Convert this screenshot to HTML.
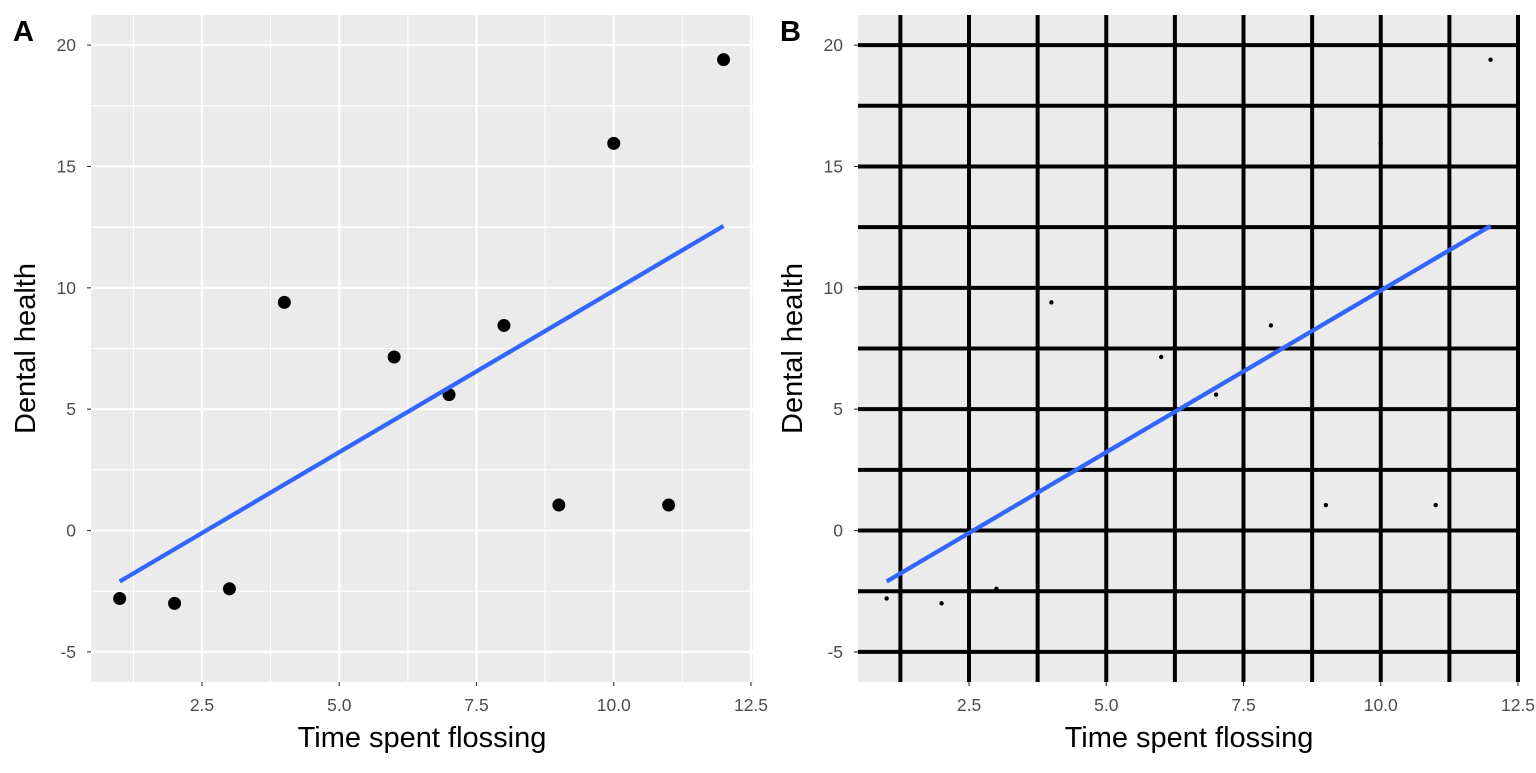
<!DOCTYPE html>
<html><head><meta charset="utf-8"><style>
body{margin:0;background:#fff;}
svg{font-family:"Liberation Sans",sans-serif;}
</style></head><body>
<svg id="chart" width="1536" height="768"></svg>
<script>
const xs=[1,2,3,4,6,7,8,9,10,11,12];
const ys=[-2.8,-3,-2.4,9.4,7.15,5.6,8.45,1.05,15.95,1.05,19.4];
const fitX=[1,12];
const fitY=[-2.1,12.55];
const xTicks=[2.5,5,7.5,10,12.5];
const xTickLabels=["2.5","5.0","7.5","10.0","12.5"];
const yTicks=[-5,0,5,10,15,20];
const yTickLabels=["-5","0","5","10","15","20"];
const xMinor=[1.25,3.75,6.25,8.75,11.25];
const yMinor=[-2.5,2.5,7.5,12.5,17.5];
const NS="http://www.w3.org/2000/svg";
const svg=document.getElementById('chart');
function mk(t,a,p){const e=document.createElementNS(NS,t);for(const k in a)e.setAttribute(k,a[k]);(p||svg).appendChild(e);return e;}
function panel(L,R,label,styleB){
  const T=15,B=682,x0=0.478,x1=0.478+(R-L)/54.9,y0=-6.24,y1=21.24;
  const sx=v=>L+(v-x0)/(x1-x0)*(R-L), sy=v=>B-(v-y0)/(y1-y0)*(B-T);
  const g=mk('g',{});
  
  
  mk('rect',{x:L,y:T,width:R-L,height:B-T,fill:'#ebebeb'},g);
  const gc=styleB?'#000':'#fff';
  const mw=styleB?4:2.2, nw=styleB?4:1.1;
  xMinor.forEach(v=>mk('line',{x1:sx(v),x2:sx(v),y1:T,y2:B,stroke:gc,'stroke-width':nw},g));
  yMinor.forEach(v=>mk('line',{y1:sy(v),y2:sy(v),x1:L,x2:R,stroke:gc,'stroke-width':nw},g));
  xTicks.forEach((v,i)=>{
    mk('line',{x1:sx(v),x2:sx(v),y1:T,y2:B,stroke:gc,'stroke-width':mw},g);
    mk('line',{x1:sx(v),x2:sx(v),y1:B,y2:B+4,stroke:'#333','stroke-width':1.1},g);
    const t=mk('text',{x:sx(v),y:B+29,'text-anchor':'middle','font-size':17.5,fill:'#4d4d4d'},g);t.textContent=xTickLabels[i];
    
  });
  yTicks.forEach((v,i)=>{
    mk('line',{y1:sy(v),y2:sy(v),x1:L,x2:R,stroke:gc,'stroke-width':mw},g);
    mk('line',{y1:sy(v),y2:sy(v),x1:L-4,x2:L,stroke:'#333','stroke-width':1.1},g);
    const t=mk('text',{x:L-15,y:sy(v)+6,'text-anchor':'end','font-size':17.5,fill:'#4d4d4d'},g);t.textContent=yTickLabels[i];
    
  });
  xs.forEach((x,i)=>{
    const c=mk('circle',{cx:sx(x),cy:sy(ys[i]),r:styleB?2.2:6.5,fill:'#000'},g);
    
  });
  const l=mk('line',{x1:sx(fitX[0]),y1:sy(fitY[0]),x2:sx(fitX[1]),y2:sy(fitY[1]),stroke:'#3366ff','stroke-width':4.3},g);
  
  const xt=mk('text',{x:(L+R)/2,y:747,'text-anchor':'middle','font-size':29,fill:'#000'},g);xt.textContent='Time spent flossing';
  
  const yt=mk('text',{x:0,y:0,'text-anchor':'middle','font-size':29,fill:'#000',transform:`translate(${L-56},${(T+B)/2}) rotate(-90)`},g);yt.textContent='Dental health';
  
  const pl=mk('text',{x:L-78,y:41,'font-size':29,'font-weight':'bold',fill:'#000'},g);pl.textContent=label;
  
}
panel(91,753,'A',false);
panel(858,1520,'B',true);
</script>
</body></html>
